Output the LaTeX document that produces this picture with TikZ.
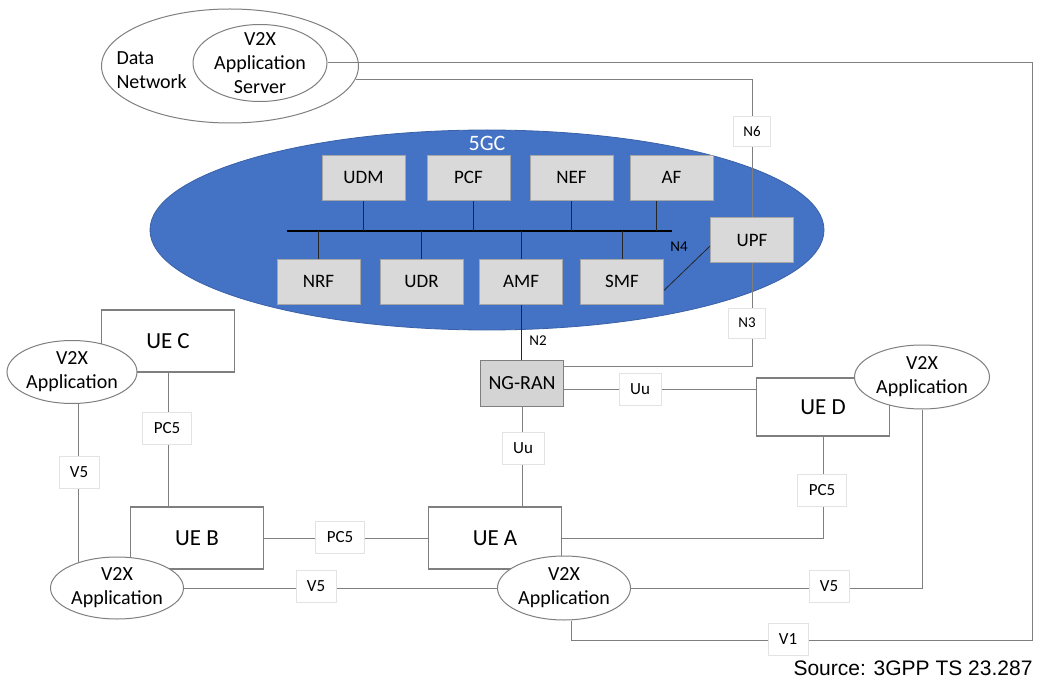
\documentclass[tikz,border=0pt]{standalone}
\usepackage{fontspec}
\setmainfont{Carlito}
\newfontfamily\arialfont{Liberation Sans}
\usetikzlibrary{shapes.geometric,calc}
\pgfdeclarelayer{bg}
\pgfdeclarelayer{lines}
\pgfsetlayers{bg,lines,main}
\definecolor{coreblue}{HTML}{4472C4}
\definecolor{nfgray}{HTML}{D9D9D9}
\definecolor{nfborder}{HTML}{A6A6A6}
\definecolor{linegray}{HTML}{7F7F7F}
\definecolor{lblborder}{HTML}{E3E3E3}
\begin{document}
\begin{tikzpicture}[x=1pt,y=-1pt,
  nf/.style={rectangle, fill=nfgray, draw=nfborder, line width=0.8pt, minimum width=83pt, minimum height=45pt, inner sep=0pt, font=\fontsize{19}{22}\selectfont},
  uebox/.style={rectangle, fill=white, draw=linegray, line width=1.1pt, minimum width=133pt, minimum height=62pt, inner sep=0pt, font=\fontsize{23}{26}\selectfont},
  appell/.style={ellipse, fill=white, draw=linegray, line width=1pt, minimum width=133pt, minimum height=64pt, inner sep=0pt},
  apptext/.style={font=\fontsize{20}{24}\selectfont, align=center},
  lbl/.style={rectangle, fill=white, draw=lblborder, line width=0.6pt, minimum height=32pt, inner xsep=11pt, inner ysep=0pt, font=\fontsize{17}{20}\selectfont},
  nlbl/.style={rectangle, fill=white, draw=lblborder, line width=0.6pt, minimum height=30pt, inner xsep=10pt, inner ysep=0pt, font=\fontsize{15}{18}\selectfont},
  conn/.style={draw=linegray, line width=1pt},
  innerline/.style={draw=black!85, line width=0.8pt},
]
\useasboundingbox (0,0) rectangle (1039,679);
\begin{pgfonlayer}{bg}
\fill[white] (0,0) rectangle (1039,679);
\end{pgfonlayer}

% Data network
\node[ellipse, draw=linegray, line width=1pt, minimum width=257pt, minimum height=114pt, inner sep=0pt] (dn) at (230,66) {};
\node[anchor=west, apptext, align=left] (dntext) at (113,70) {Data\\Network};
\node[appell, minimum width=134pt, minimum height=77pt, label={[apptext]center:V2X\\Application\\Server}] (as) at (260,63) {};

% 5GC
\begin{pgfonlayer}{bg}
\node[ellipse, fill=coreblue, draw=coreblue!85!black, line width=0.8pt, minimum width=674pt, minimum height=200pt, inner sep=0pt] (core) at (487,230) {};
\end{pgfonlayer}
\node[text=white, font=\fontsize{22}{26}\selectfont] (coretext) at (487,143) {5GC};

\node[nf] (udm) at (363.5,177.5) {UDM};
\node[nf] (pcf) at (468.5,177.5) {PCF};
\node[nf] (nef) at (571.5,177.5) {NEF};
\node[nf] (af)  at (671.5,177.5) {AF};
\node[nf] (nrf) at (318.5,281.5) {NRF};
\node[nf] (udr) at (421.5,281.5) {UDR};
\node[nf] (amf) at (521,281.5) {AMF};
\node[nf] (smf) at (622,281.5) {SMF};
\node[nf] (upf) at (752,240) {UPF};

\node[rectangle, fill=black!17, draw=linegray, line width=1pt, minimum width=83pt, minimum height=46pt, inner sep=0pt, font=\fontsize{20}{24}\selectfont] (ngran) at (522,383) {NG-RAN};

% UEs
\node[uebox] (uec) at (168,341) {UE C};
\node[uebox] (ueb) at (197,538) {UE B};
\node[uebox] (uea) at (495,538) {UE A};
\node[uebox, minimum height=58pt] (ued) at (823,407) {UE D};

% V2X applications
\node[appell, minimum width=130pt, minimum height=63pt, label={[apptext]center:V2X\\Application}] (appc) at (72,372) {};
\node[appell, minimum height=62pt, label={[apptext]center:V2X\\Application}] (appb) at (117,588) {};
\node[appell, label={[apptext]center:V2X\\Application}] (appa) at (564,588) {};
\node[appell, minimum width=135pt, label={[apptext]center:V2X\\Application}] (appd) at (922,377) {};

% connectors
\begin{pgfonlayer}{lines}
\coordinate (v1corner) at (1032,640);
\coordinate (v1start) at ($(appa.south)+(7,0)$);
\draw[conn] (as.east) -| (v1corner) -| (v1start);
\draw[conn] (dn.-6) -| (upf.north);

\coordinate (busL) at (287,231);
\coordinate (busR) at (672,231);
\draw[black, line width=1.3pt] (busL) -- (busR);
\draw[innerline] (udm.south) -- (udm.south |- busL);
\coordinate (pcfb) at ($(pcf.south)+(5,0)$);
\draw[innerline] (pcfb) -- (pcfb |- busL);
\draw[innerline] (nef.south) -- (nef.south |- busL);
\coordinate (afb) at ($(af.south)+(-15,0)$);
\draw[innerline] (afb) -- (afb |- busL);
\draw[innerline] (nrf.north) -- (nrf.north |- busL);
\draw[innerline] (udr.north) -- (udr.north |- busL);
\draw[innerline] (amf.north) -- (amf.north |- busL);
\draw[innerline] (smf.north) -- (smf.north |- busL);
\draw[innerline] ([yshift=-9pt]smf.east) -- ([yshift=-6pt]upf.west);

\draw[innerline] (amf.south) -- (amf.south |- ngran.north);
\coordinate (n3end) at ($(ngran.east)+(0,-17)$);
\draw[conn] (upf.south) |- (n3end);
\coordinate (uustart) at ($(ngran.east)+(0,6)$);
\draw[conn] (uustart) -- (uustart -| ued.west);
\draw[conn] (ngran.south) -- (ngran.south |- uea.north);
\draw[conn] (ued.south) |- (uea.east);
\draw[conn] (appd.south) |- (appa.east);
\draw[conn] (ueb.east) -- (uea.west);
\draw[conn] (appb.east) -- (appa.west);
\draw[conn] (uec.south) -- (uec.south |- ueb.north);
\coordinate (v5a) at ($(appc.south)+(6,0)$);
\draw[conn] (v5a) -- (v5a |- appb.center);
\end{pgfonlayer}

% labels
\node[lbl] (lpc5c) at (167,428) {PC5};
\node[lbl] (lv5c) at (79,472) {V5};
\node[lbl] (lpc5b) at (340,537) {PC5};
\node[lbl] (lv5b) at (316,586) {V5};
\node[lbl] (luu1) at (640,389) {Uu};
\node[lbl] (luu2) at (523,448) {Uu};
\node[lbl] (lpc5d) at (822,490) {PC5};
\node[lbl] (lv5d) at (829,586) {V5};
\node[lbl] (lv1) at (788,639) {V1};
\node[nlbl] (ln6) at (752,131) {N6};
\node[nlbl] (ln3) at (747,323) {N3};
\node[font=\fontsize{15}{18}\selectfont] (ln2) at (538,341) {N2};
\node[font=\fontsize{15}{18}\selectfont] (ln4) at (679,247) {N4};

\node[anchor=east, font=\arialfont\fontsize{21}{24}\selectfont] (src) at (1036,668) {Source: 3GPP TS 23.287};
\end{tikzpicture}
\end{document}
